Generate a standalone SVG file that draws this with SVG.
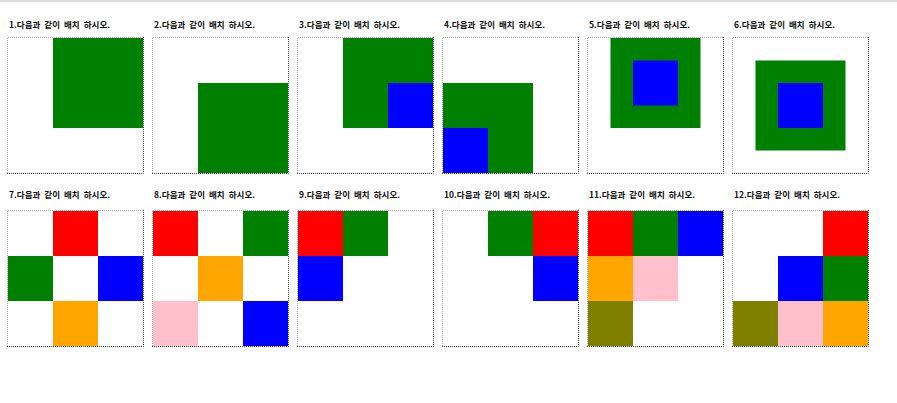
<svg xmlns="http://www.w3.org/2000/svg" width="897" height="403" viewBox="0 0 897 403">
<style>
.t{font-family:"Noto Sans CJK KR","Noto Sans",sans-serif;font-size:8.5px;font-weight:bold;fill:#111;word-spacing:2px}
.lt{fill:none;stroke:#b0b0b0;stroke-width:1;stroke-dasharray:1 1}
.rb{fill:none;stroke:#404040;stroke-width:1;stroke-dasharray:1 1}
.g{fill:#008000}.b{fill:#0000ff}.r{fill:#ff0000}.o{fill:#ffa500}.p{fill:#ffc0cb}.v{fill:#808000}
</style>
<defs>
<g id="frame">
<path class="lt" d="M0.5 136V0.5H136"/>
<path class="rb" d="M136.5 0V136.5H0"/>
</g>
</defs>
<rect width="897" height="403" fill="#fff"/>
<line x1="0" y1="1" x2="897" y2="1" stroke="#dcdcdc" stroke-width="2"/>

<g id="q1" transform="translate(7,37)">
<text class="t" x="2" y="-9" textLength="101">1.다음과 같이 배치 하시오.</text>
<rect class="g" x="46" y="1" width="90" height="90"/>
<use href="#frame"/>
</g>
<g id="q2" transform="translate(152,37)">
<text class="t" x="2" y="-9" textLength="101">2.다음과 같이 배치 하시오.</text>
<rect class="g" x="46" y="46" width="90" height="90"/>
<use href="#frame"/>
</g>
<g id="q3" transform="translate(297,37)">
<text class="t" x="2" y="-9" textLength="101">3.다음과 같이 배치 하시오.</text>
<rect class="g" x="46" y="1" width="90" height="90"/>
<rect class="b" x="91" y="46" width="45" height="45"/>
<use href="#frame"/>
</g>
<g id="q4" transform="translate(442,37)">
<text class="t" x="2" y="-9" textLength="101">4.다음과 같이 배치 하시오.</text>
<rect class="g" x="1" y="46" width="90" height="90"/>
<rect class="b" x="1" y="91" width="45" height="45"/>
<use href="#frame"/>
</g>
<g id="q5" transform="translate(587,37)">
<text class="t" x="2" y="-9" textLength="101">5.다음과 같이 배치 하시오.</text>
<rect class="g" x="23.5" y="1" width="90" height="90"/>
<rect class="b" x="46" y="23.5" width="45" height="45"/>
<use href="#frame"/>
</g>
<g id="q6" transform="translate(732,37)">
<text class="t" x="2" y="-9" textLength="101">6.다음과 같이 배치 하시오.</text>
<rect class="g" x="23.5" y="23.5" width="90" height="90"/>
<rect class="b" x="46" y="46" width="45" height="45"/>
<use href="#frame"/>
</g>

<g id="q7" transform="translate(7,210)">
<text class="t" x="2" y="-12" textLength="101">7.다음과 같이 배치 하시오.</text>
<rect class="r" x="46" y="1" width="45" height="45"/>
<rect class="g" x="1" y="46" width="45" height="45"/>
<rect class="b" x="91" y="46" width="45" height="45"/>
<rect class="o" x="46" y="91" width="45" height="45"/>
<use href="#frame"/>
</g>
<g id="q8" transform="translate(152,210)">
<text class="t" x="2" y="-12" textLength="101">8.다음과 같이 배치 하시오.</text>
<rect class="r" x="1" y="1" width="45" height="45"/>
<rect class="g" x="91" y="1" width="45" height="45"/>
<rect class="o" x="46" y="46" width="45" height="45"/>
<rect class="p" x="1" y="91" width="45" height="45"/>
<rect class="b" x="91" y="91" width="45" height="45"/>
<use href="#frame"/>
</g>
<g id="q9" transform="translate(297,210)">
<text class="t" x="2" y="-12" textLength="101">9.다음과 같이 배치 하시오.</text>
<rect class="r" x="1" y="1" width="45" height="45"/>
<rect class="g" x="46" y="1" width="45" height="45"/>
<rect class="b" x="1" y="46" width="45" height="45"/>
<use href="#frame"/>
</g>
<g id="q10" transform="translate(442,210)">
<text class="t" x="2" y="-12" textLength="106">10.다음과 같이 배치 하시오.</text>
<rect class="g" x="46" y="1" width="45" height="45"/>
<rect class="r" x="91" y="1" width="45" height="45"/>
<rect class="b" x="91" y="46" width="45" height="45"/>
<use href="#frame"/>
</g>
<g id="q11" transform="translate(587,210)">
<text class="t" x="2" y="-12" textLength="106">11.다음과 같이 배치 하시오.</text>
<rect class="r" x="1" y="1" width="45" height="45"/>
<rect class="g" x="46" y="1" width="45" height="45"/>
<rect class="b" x="91" y="1" width="45" height="45"/>
<rect class="o" x="1" y="46" width="45" height="45"/>
<rect class="p" x="46" y="46" width="45" height="45"/>
<rect class="v" x="1" y="91" width="45" height="45"/>
<use href="#frame"/>
</g>
<g id="q12" transform="translate(732,210)">
<text class="t" x="2" y="-12" textLength="106">12.다음과 같이 배치 하시오.</text>
<rect class="r" x="91" y="1" width="45" height="45"/>
<rect class="b" x="46" y="46" width="45" height="45"/>
<rect class="g" x="91" y="46" width="45" height="45"/>
<rect class="v" x="1" y="91" width="45" height="45"/>
<rect class="p" x="46" y="91" width="45" height="45"/>
<rect class="o" x="91" y="91" width="45" height="45"/>
<use href="#frame"/>
</g>
</svg>
